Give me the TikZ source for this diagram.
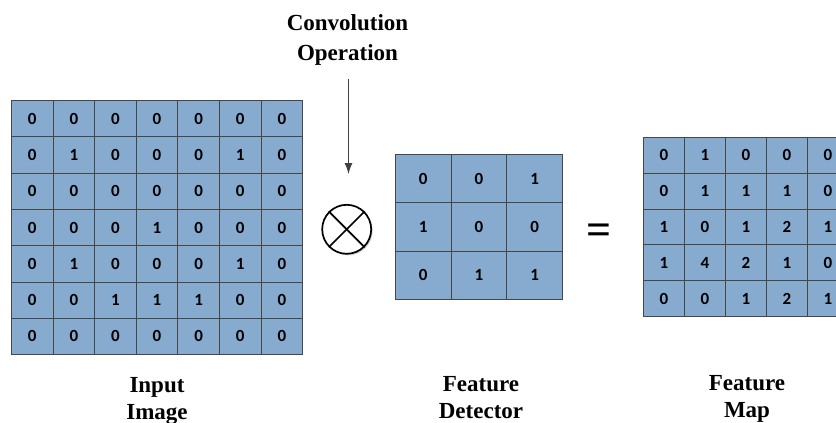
\documentclass[tikz,border=0pt]{standalone}
\usepackage{fontspec}
\setmainfont{Liberation Serif}
\newfontfamily\cellfont{Carlito}[UprightFont={* Bold}]
\definecolor{cellblue}{RGB}{135,170,207}
\definecolor{gridline}{RGB}{70,70,70}
\usetikzlibrary{arrows.meta}
\tikzset{
  cell/.style={draw=gridline, fill=cellblue, line width=0.9pt, inner sep=0pt, anchor=north west,
    font=\cellfont\fontsize{17}{17}\selectfont},
  incell/.style={cell, minimum width=41.6pt, minimum height=36.3pt},
  detcell/.style={cell, minimum width=55.7pt, minimum height=48.3pt},
  mapcell/.style={cell, minimum width=41pt, minimum height=35.8pt},
  label/.style={align=center, font=\bfseries\fontsize{23}{27}\selectfont},
  arr/.style={-{Latex[length=11pt,width=8pt]}, draw=black!75, line width=1.1pt},
}
\begin{document}
\begin{tikzpicture}[x=1pt,y=-1pt]
\useasboundingbox (0,0) rectangle (836,423);
\clip (0,0) rectangle (836,423);
% input image
\foreach \row [count=\r] in {{0,0,0,0,0,0,0},{0,1,0,0,0,1,0},{0,0,0,0,0,0,0},{0,0,0,1,0,0,0},{0,1,0,0,0,1,0},{0,0,1,1,1,0,0},{0,0,0,0,0,0,0}}{
  \foreach \v [count=\c] in \row {
    \node[incell] (in-\r-\c) at ({11+(\c-1)*41.6},{100+(\r-1)*36.3}) {\v};
  }
}
% feature detector
\foreach \row [count=\r] in {{0,0,1},{1,0,0},{0,1,1}}{
  \foreach \v [count=\c] in \row {
    \node[detcell] (det-\r-\c) at ({395+(\c-1)*55.7},{154+(\r-1)*48.3}) {\v};
  }
}
% feature map
\foreach \row [count=\r] in {{0,1,0,0,0,0},{0,1,1,1,0,0},{1,0,1,2,1,0},{1,4,2,1,0,0},{0,0,1,2,1,0}}{
  \foreach \v [count=\c] in \row {
    \ifnum\c<6
    \node[mapcell] (map-\r-\c) at ({643+(\c-1)*41},{137+(\r-1)*35.8}) {\v};
    \fi
  }
}
% operator
\fill[gray!35] (348.2,230.8) circle (24.5pt);
\node[circle, draw=black, line width=1.7pt, minimum size=49pt, inner sep=0pt, fill=white] (op) at (346.7,229.3) {};
\draw[line width=1.7pt] (op.north west) -- (op.south east);
\draw[line width=1.7pt] (op.north east) -- (op.south west);
% title and arrow
\node[label, font=\bfseries\fontsize{23}{30}\selectfont] (title) at (347.5,39.5) {Convolution\\Operation};
\coordinate (astart) at (348.5,79);
\coordinate (aend) at (348.5,174);
\draw[arr] (astart) -- (aend);
% equals
\node[font=\bfseries\fontsize{44}{44}\selectfont, inner sep=0pt] (eq) at (599.5,234) {=};
% labels
\node[label] (lin) at (157,401) {Input\\Image};
\node[label] (ldet) at (481,398) {Feature\\Detector};
\node[label] (lmap) at (747,399) {Feature\\Map};
\end{tikzpicture}
\end{document}
